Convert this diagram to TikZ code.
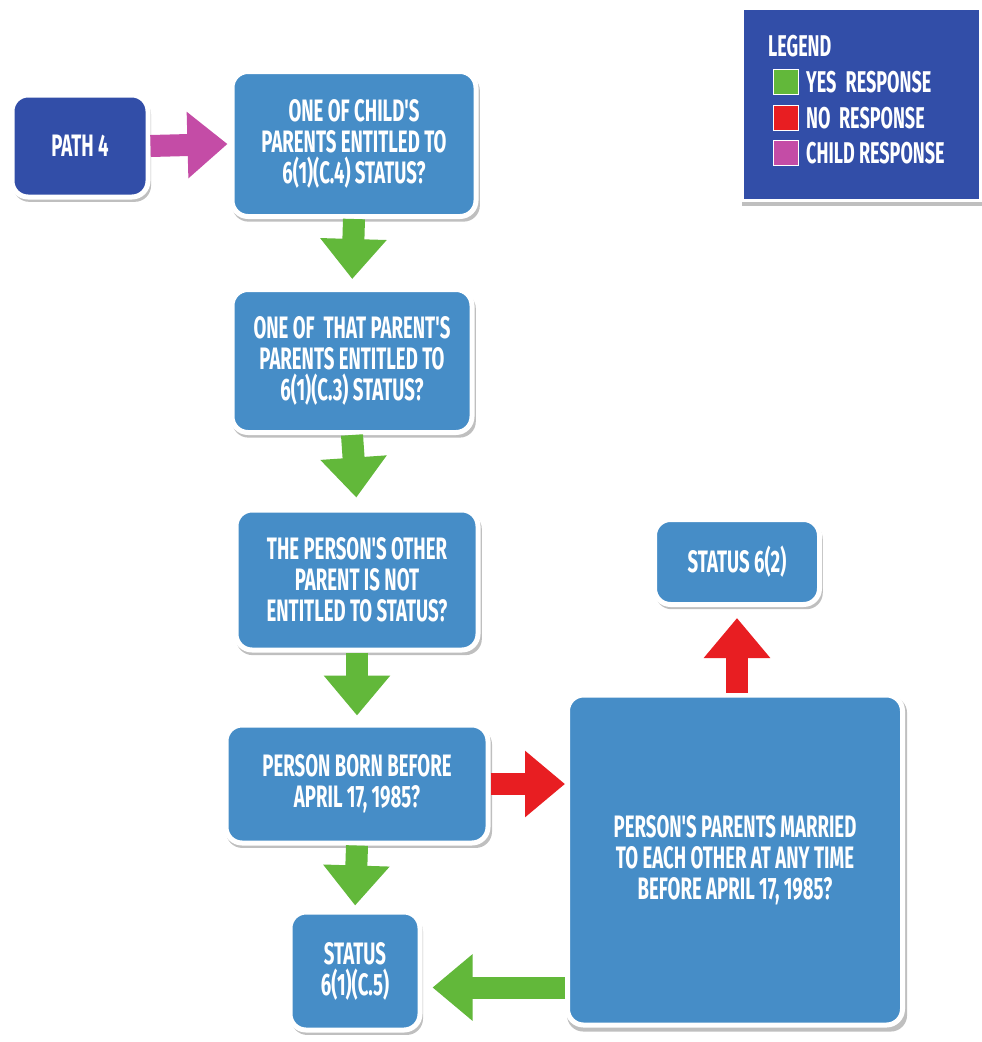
\documentclass[tikz,border=0pt]{standalone}
\usepackage{fontspec}
\newfontfamily\cond{Fira Sans}[FakeStretch=0.6]
\usetikzlibrary{arrows.meta,shadows,calc}
\definecolor{boxblue}{RGB}{70,141,199}
\definecolor{darkblue}{RGB}{50,78,168}
\definecolor{yesgreen}{RGB}{98,184,58}
\definecolor{nored}{RGB}{232,30,34}
\definecolor{childpink}{RGB}{196,76,166}
\tikzset{
  box/.style={draw=white, line width=5pt, rounded corners=16pt, fill=boxblue,
    text=white, align=center, inner sep=0pt,
    font=\cond\bfseries\fontsize{31}{31}\selectfont,
    drop shadow={opacity=0.5, shadow xshift=2pt, shadow yshift=-4pt, shadow scale=1.015}},
  darkbox/.style={box, fill=darkblue},
  fat/.style={line width=22pt, -{Triangle[width=64pt,length=40pt]}},
  yes/.style={fat, draw=yesgreen},
  no/.style={fat, draw=nored},
  child/.style={fat, draw=childpink},
  swatch/.style={draw=white, line width=1.2pt, minimum size=25pt, inner sep=0pt},
  legtext/.style={text=white, anchor=west, inner sep=0pt,
    font=\cond\bfseries\fontsize{30}{28}\selectfont}
}
\begin{document}
\begin{tikzpicture}[x=1pt,y=-1pt]
\useasboundingbox (0,0) rectangle (982,1042);
\fill[white] (0,0) rectangle (982,1042);

% nodes
\node[darkbox, minimum width=136pt, minimum height=102pt] (path4) at (80,146) {PATH 4};
\node[box, minimum width=244pt, minimum height=145pt] (q1) at (354,144)
  {ONE OF CHILD'S\\PARENTS ENTITLED TO\\6(1)(C.4) STATUS?};
\node[box, minimum width=240pt, minimum height=143pt] (q2) at (352,361)
  {ONE OF \ THAT PARENT'S\\PARENTS ENTITLED TO\\6(1)(C.3) STATUS?};
\node[box, minimum width=242pt, minimum height=140pt] (q3) at (357,580)
  {THE PERSON'S OTHER\\PARENT IS NOT\\ENTITLED TO STATUS?};
\node[box, minimum width=262pt, minimum height=118pt] (q4) at (357,784)
  {PERSON BORN BEFORE\\APRIL 17, 1985?};
\node[box, minimum width=335pt, minimum height=330pt] (q5) at (735,860)
  {PERSON'S PARENTS MARRIED\\TO EACH OTHER AT ANY TIME\\BEFORE APRIL 17, 1985?};
\node[box, minimum width=165pt, minimum height=85pt] (s62) at (737,562) {STATUS 6(2)};
\node[box, minimum width=130pt, minimum height=118pt] (s615) at (355,971)
  {STATUS\\6(1)(C.5)};

% legend
\node[draw=white, line width=3pt, fill=darkblue, minimum width=238pt, minimum height=192pt,
  drop shadow={opacity=0.5, shadow xshift=2pt, shadow yshift=-4pt, shadow scale=1.015}] (legend) at (861,104) {};
\node[legtext] (lgtitle) at (768,46) {LEGEND};
\node[swatch, fill=yesgreen] (sw1) at (786,82) {};
\node[swatch, fill=nored] (sw2) at (786,118) {};
\node[swatch, fill=childpink] (sw3) at (786,153) {};
\node[legtext] (lg1) at (806,82) {YES \,RESPONSE};
\node[legtext] (lg2) at (806,118) {NO \ RESPONSE};
\node[legtext] (lg3) at (806,153) {CHILD RESPONSE};

% connectors
\draw[child] (path4.east) -- ([xshift=-2pt]q1.west);
\draw[yes, shorten >=8pt] (q1.south) -- (q2.north);
\draw[yes, shorten >=10pt] (q2.south) -- (q3.north);
\draw[yes, shorten >=7pt] (q3.south) -- (q4.north);
\draw[yes, shorten >=4pt] (q4.south) -- (s615.north);
\draw[no] (q4.east) -- (q5.west |- q4.east);
\draw[no, shorten >=11pt] (q5.north -| s62.south) -- (s62.south);
\coordinate (lstart) at ([yshift=40pt]q5.south west);
\draw[yes, shorten >=10pt] (lstart) -- (s615.east |- lstart);
\end{tikzpicture}
\end{document}
